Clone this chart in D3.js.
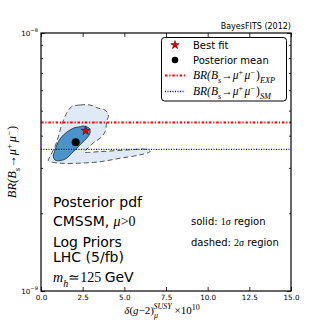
<!DOCTYPE html>
<html>
<head>
<meta charset="utf-8">
<script src="https://cdn.jsdelivr.net/npm/d3@7"></script>
<style>
  body { margin: 0; background: #fff; }
  text { font-family: "DejaVu Sans", sans-serif; fill: #000; }
  .m { font-family: "Liberation Serif", serif; font-style: italic; }
  .r { font-family: "Liberation Serif", serif; font-style: normal; }
</style>
</head>
<body>
<div id="chart"></div>
<script>
// values
const xTicks = [0, 2.5, 5, 7.5, 10, 12.5, 15];
const yMajor = [1e-9, 1e-8];
const yMinor = [2e-9, 3e-9, 4e-9, 5e-9, 6e-9, 7e-9, 8e-9, 9e-9];
const yExponents = ["\u22129", "\u22128"];

const brExp = 4.5e-9;
const brSm = 3.54e-9;
const bestFit = [2.68, 4.18e-9];
const postMean = [2.08, 3.77e-9];

// 2 sigma contour (dashed)
const region2 = [
  [1.84, 5.18e-9], [2.34, 5.26e-9], [2.94, 5.26e-9], [3.44, 5.11e-9], [3.84, 5.03e-9],
  [4.04, 4.81e-9], [3.94, 4.53e-9], [3.84, 4.14e-9], [3.54, 3.91e-9], [3.14, 3.75e-9],
  [2.82, 3.58e-9], [2.58, 3.46e-9], [3.54, 3.47e-9], [5.16, 3.52e-9], [6.34, 3.54e-9],
  [6.54, 3.47e-9], [5.94, 3.37e-9], [4.74, 3.27e-9], [3.54, 3.17e-9], [2.34, 3.13e-9],
  [1.14, 3.13e-9], [0.44, 3.20e-9], [0.54, 3.32e-9], [0.84, 3.63e-9], [1.04, 3.96e-9],
  [1.24, 4.40e-9], [1.54, 4.89e-9]
];
// 1 sigma contour (solid)
const region1 = [
  [2.34, 4.33e-9], [2.54, 4.36e-9], [2.90, 4.27e-9], [2.94, 4.09e-9], [2.74, 3.91e-9],
  [2.44, 3.74e-9], [2.14, 3.57e-9], [1.84, 3.42e-9], [1.54, 3.27e-9], [1.14, 3.20e-9],
  [0.84, 3.22e-9], [0.74, 3.32e-9], [0.84, 3.52e-9], [1.04, 3.79e-9], [1.34, 4.02e-9],
  [1.74, 4.21e-9], [2.04, 4.30e-9]
];

const textLines = ["Posterior pdf", "CMSSM, ", "Log Priors", "LHC (5/fb)"];

const width = 324;
const height = 324;
const margin = { top: 33, right: 33, bottom: 33, left: 41 };

const svg = d3.select("#chart")
    .append("svg")
    .attr("width", width)
    .attr("height", height);

const x = d3.scaleLinear()
    .domain([0, 15])
    .range([margin.left, width - margin.right]);

const y = d3.scaleLog()
    .domain([1e-9, 1e-8])
    .range([height - margin.bottom, margin.top]);

// writes a list of [text, class, level, size, dx] parts, level -1 = super, 1 = sub
function mathParts(t, parts, base) {
    let cur = 0;
    parts.forEach(p => {
        const off = p[2] * base * 0.35;
        const ts = t.append("tspan").attr("class", p[1]).text(p[0]);
        if (off - cur !== 0) ts.attr("dy", off - cur);
        if (p[3]) ts.attr("font-size", p[3]);
        if (p[4]) ts.attr("dx", p[4]);
        cur = off;
    });
}

function brParts(sub, fs) {
    const s = fs * 0.72;
    const parts = [
        ["BR(", "m", 0], ["B", "m", 0], ["s", "m", 1, s], ["\u2192", "r", 0],
        ["\u03bc", "m", 0], ["+", "r", -1, s], ["\u03bc", "m", 0, null, 1.5], ["\u2212", "r", -1, s],
        [")", "r", 0, null, 1]
    ];
    if (sub) parts.push([sub, "m", 1, s]);
    return parts;
}

// contours
const line = d3.line()
    .x(d => x(d[0]))
    .y(d => y(d[1]))
    .curve(d3.curveCatmullRomClosed.alpha(0.5));

svg.append("path")
    .attr("d", line(region2))
    .attr("fill", "#dfeaf6")
    .attr("stroke", "#555")
    .attr("stroke-width", 1)
    .attr("stroke-dasharray", "5,3");

svg.append("path")
    .attr("d", line(region1))
    .attr("fill", "#4b93cb")
    .attr("stroke", "#1a2a3a")
    .attr("stroke-width", 0.8);

// reference lines
const expDash = "2.5,1.8,1.2,1.8";
svg.append("line")
    .attr("x1", x(0)).attr("x2", x(15))
    .attr("y1", y(brExp)).attr("y2", y(brExp))
    .attr("stroke", "#ff0000")
    .attr("stroke-width", 2)
    .attr("stroke-dasharray", expDash);

svg.append("line")
    .attr("x1", x(0)).attr("x2", x(15))
    .attr("y1", y(brSm)).attr("y2", y(brSm))
    .attr("stroke", "#0000ff")
    .attr("stroke-width", 1.3)
    .attr("stroke-dasharray", "1,1.5");

// markers
svg.append("circle")
    .attr("cx", x(postMean[0]))
    .attr("cy", y(postMean[1]))
    .attr("r", 4)
    .attr("fill", "#000");

svg.append("path")
    .attr("d", d3.symbol(d3.symbolStar, 26)())
    .attr("transform", `translate(${x(bestFit[0])},${y(bestFit[1])})`)
    .attr("fill", "#e00000")
    .attr("stroke", "#600")
    .attr("stroke-width", 0.6);

// axes, ticks pointing in
const bottom = svg.append("g")
    .attr("transform", `translate(0,${height - margin.bottom})`)
    .call(d3.axisBottom(x).tickValues(xTicks).tickSize(-4).tickPadding(4)
        .tickFormat(d3.format(".1f")));
bottom.selectAll("text").attr("font-size", 7.2).attr("font-family", "DejaVu Sans");

svg.append("g")
    .attr("transform", `translate(0,${margin.top})`)
    .call(d3.axisTop(x).tickValues(xTicks).tickSize(-4).tickFormat(""));

const left = svg.append("g")
    .attr("transform", `translate(${margin.left},0)`)
    .call(d3.axisLeft(y).tickValues(yMajor).tickSize(-4).tickPadding(3).tickFormat(""));
left.selectAll(".tick text").each(function (d, i) {
    const t = d3.select(this).attr("font-size", 7.2).attr("font-family", "DejaVu Sans").text("10");
    t.append("tspan").attr("dy", -4).attr("font-size", 5.2).text(yExponents[i]);
});

svg.append("g")
    .attr("transform", `translate(${margin.left},0)`)
    .call(d3.axisLeft(y).tickValues(yMinor).tickSize(-2).tickFormat(""));

svg.append("g")
    .attr("transform", `translate(${width - margin.right},0)`)
    .call(d3.axisRight(y).tickValues(yMajor).tickSize(-4).tickFormat(""));
svg.append("g")
    .attr("transform", `translate(${width - margin.right},0)`)
    .call(d3.axisRight(y).tickValues(yMinor).tickSize(-2).tickFormat(""));

svg.selectAll(".domain").remove();
svg.selectAll(".tick line").attr("stroke", "#000").attr("stroke-width", 0.8);

svg.append("rect")
    .attr("x", margin.left)
    .attr("y", margin.top)
    .attr("width", width - margin.left - margin.right)
    .attr("height", height - margin.top - margin.bottom)
    .attr("fill", "none")
    .attr("stroke", "#000")
    .attr("stroke-width", 1.2);

// title
svg.append("text")
    .attr("x", width - margin.right)
    .attr("y", 29)
    .attr("text-anchor", "end")
    .attr("font-size", 8)
    .text("BayesFITS (2012)");

// axis labels
const xl = svg.append("text")
    .attr("x", 162)
    .attr("y", 314)
    .attr("text-anchor", "middle")
    .attr("font-size", 11);
mathParts(xl, [
    ["\u03b4", "m", 0], ["(", "r", 0], ["g", "m", 0], ["\u22122", "r", 0], [")", "r", 0],
    ["\u03bc", "m", 1, 8], ["SUSY", "m", -1.2, 8, -4.5], [" \u00d710", "r", 0], ["10", "r", -1, 8]
], 11);

const yl = svg.append("text")
    .attr("transform", `translate(16,162) rotate(-90)`)
    .attr("text-anchor", "middle")
    .attr("font-size", 12.5);
mathParts(yl, brParts(null, 12.5), 12.5);

// legend
const lg = svg.append("g");
lg.append("rect")
    .attr("x", 161.5).attr("y", 37.5)
    .attr("width", 125).attr("height", 63.5)
    .attr("rx", 3)
    .attr("fill", "#fff")
    .attr("stroke", "#000")
    .attr("stroke-width", 1);

const rowY = [45, 60, 75.5, 91.5];
lg.append("path")
    .attr("d", d3.symbol(d3.symbolStar, 22)())
    .attr("transform", `translate(175,${rowY[0]})`)
    .attr("fill", "#e00000")
    .attr("stroke", "#600")
    .attr("stroke-width", 0.6);
lg.append("circle").attr("cx", 175).attr("cy", rowY[1]).attr("r", 3.3).attr("fill", "#000");
lg.append("line").attr("x1", 165).attr("x2", 185).attr("y1", rowY[2]).attr("y2", rowY[2])
    .attr("stroke", "#ff0000").attr("stroke-width", 2).attr("stroke-dasharray", expDash);
lg.append("line").attr("x1", 165).attr("x2", 185).attr("y1", rowY[3]).attr("y2", rowY[3])
    .attr("stroke", "#0000ff").attr("stroke-width", 1.3).attr("stroke-dasharray", "1,1.5");

lg.append("text").attr("x", 193).attr("y", rowY[0] + 3.5).attr("font-size", 10).text("Best fit");
lg.append("text").attr("x", 193).attr("y", rowY[1] + 3.5).attr("font-size", 10).text("Posterior mean");
mathParts(lg.append("text").attr("x", 193).attr("y", rowY[2] + 3.5).attr("font-size", 11.5),
    brParts("EXP", 11.5), 11.5);
mathParts(lg.append("text").attr("x", 193).attr("y", rowY[3] + 3.5).attr("font-size", 11.5),
    brParts("SM", 11.5), 11.5);

// info text
const lineY = [207, 226, 246.5, 261.5];
textLines.forEach((s, i) => {
    svg.append("text").attr("x", 53).attr("y", lineY[i]).attr("font-size", 14).text(s);
});
svg.selectAll("text").filter(function () { return d3.select(this).text() === "CMSSM, "; })
    .append("tspan").attr("class", "m").text("\u03bc")
    .select(function () { return this.parentNode; })
    .append("tspan").attr("class", "r").text(">0");

const mh = svg.append("text").attr("x", 53).attr("y", 282).attr("font-size", 14);
mathParts(mh, [["m", "m", 0], ["h", "m", 1, 10], ["\u2243125 ", "r", 0], ["GeV", null, 0]], 14);
mh.selectAll("tspan").filter(function () { return d3.select(this).text() === "GeV"; })
    .attr("font-family", "DejaVu Sans").attr("font-style", "normal");

const s1 = svg.append("text").attr("x", 191).attr("y", 225).attr("font-size", 10);
mathParts(s1, [["solid: ", null, 0], ["1", "r", 0], ["\u03c3", "m", 0], [" region", null, 0]], 10);
const s2 = svg.append("text").attr("x", 191).attr("y", 245.5).attr("font-size", 10);
mathParts(s2, [["dashed: ", null, 0], ["2", "r", 0], ["\u03c3", "m", 0], [" region", null, 0]], 10);
</script>
</body>
</html>
